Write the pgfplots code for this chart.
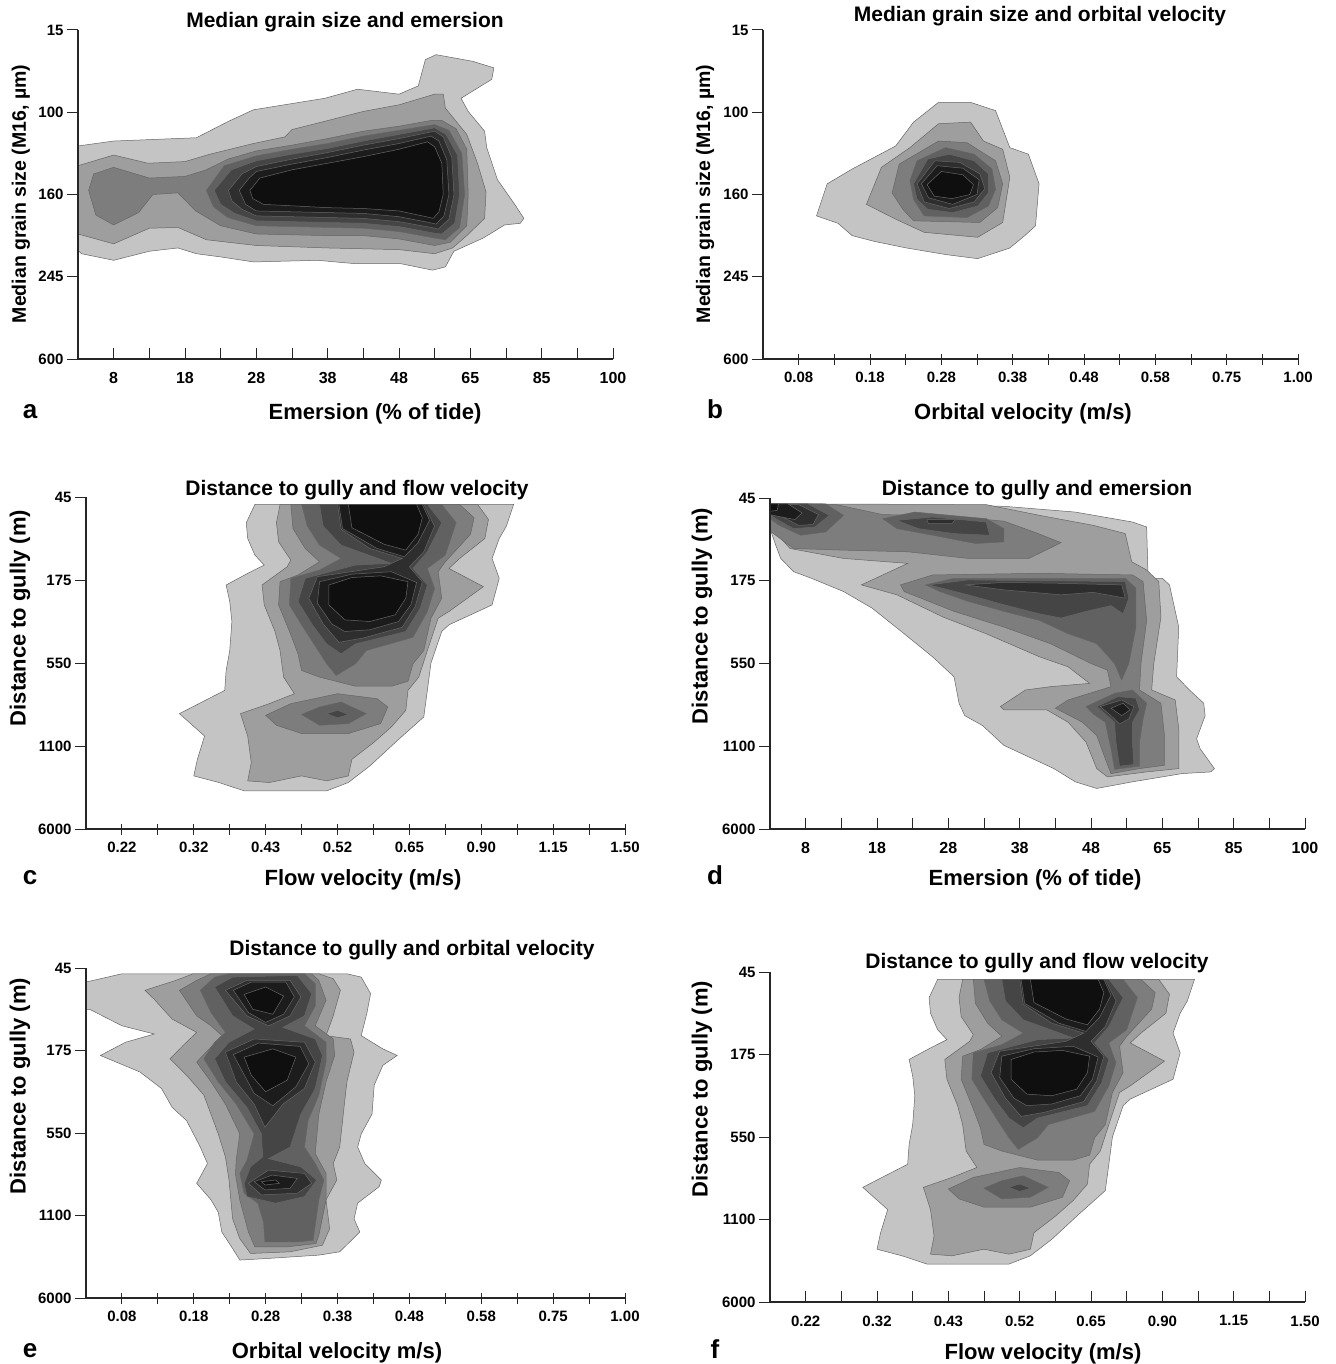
\documentclass[border=0pt]{standalone}
\usepackage{fontspec}
\setmainfont{Liberation Sans}
\usepackage{pgfplots}
\pgfplotsset{compat=1.18}

\definecolor{g1}{gray}{0.77}
\definecolor{g2}{gray}{0.62}
\definecolor{g3}{gray}{0.49}
\definecolor{g4}{gray}{0.38}
\definecolor{g5}{gray}{0.27}
\definecolor{g6}{gray}{0.18}
\definecolor{g7}{gray}{0.11}
\definecolor{g8}{gray}{0.06}

\newcommand{\ttl}{\bfseries\fontsize{21}{25}\selectfont}
\newcommand{\lbl}{\bfseries\fontsize{22}{26}\selectfont}
\newcommand{\ltr}{\bfseries\fontsize{26}{30}\selectfont}

\pgfplotsset{
  panel/.style={
    scale only axis, anchor=south west, axis on top,
    xmin=0.5, xmax=8, ymin=0, ymax=4,
    axis x line*=bottom, axis y line*=left,
    axis line style={-, line width=1.3pt, black!85},
    xtick={1,...,8}, minor xtick={1.5,2.5,...,7.5},
    ytick={0,1,2,3,4},
    major tick length=11pt, minor tick length=11pt,
    tick style={black!85, line width=1pt},
    ytick align=outside,
    tick label style={font=\bfseries\fontsize{15}{18}\selectfont},
  },
  inticks/.style={xtick align=inside, xticklabel style={yshift=-10pt}},
  midticks/.style={xtick align=center, xticklabel style={yshift=-4pt}},
  lev/.style={fill=#1, draw=black!60, line width=0.5pt},
}

% contours of distance to gully vs flow velocity (panels c and f)
\newcommand{\flowcontours}{
\addplot[lev=g1] coordinates {(2.85,3.91) (2.73,3.69) (2.75,3.50) (2.85,3.30) (2.98,3.18) (2.75,3.08) (2.45,2.94) (2.5,2.74) (2.53,2.50) (2.5,2.15) (2.45,1.91) (2.43,1.67) (1.8,1.39) (2.15,1.12) (2.05,0.84) (2.0,0.64) (2.35,0.56) (2.7,0.46) (3.85,0.46) (4.15,0.56) (4.45,0.76) (4.85,1.08) (5.2,1.35) (5.25,1.67) (5.3,2.0) (5.45,2.38) (5.55,2.46) (6.15,2.70) (6.25,3.02) (6.15,3.26) (6.25,3.50) (6.35,3.65) (6.45,3.91)} -- cycle;
\addplot[lev=g2] coordinates {(3.2,3.91) (3.15,3.69) (3.18,3.46) (3.35,3.24) (3.3,3.16) (2.95,2.94) (2.98,2.70) (3.13,2.38) (3.2,2.15) (3.25,1.83) (3.4,1.63) (3.05,1.51) (2.65,1.39) (2.75,1.12) (2.8,0.80) (2.75,0.58) (3.05,0.56) (3.5,0.64) (3.85,0.58) (4.15,0.64) (4.2,0.84) (4.5,1.04) (4.75,1.23) (4.95,1.43) (4.98,1.67) (5.13,1.83) (5.25,2.15) (5.4,2.54) (5.55,2.62) (6.03,2.92) (5.55,3.14) (5.7,3.26) (6.05,3.50) (6.1,3.73) (5.95,3.91)} -- cycle;
\addplot[lev=g3] coordinates {(3.35,3.91) (3.38,3.62) (3.55,3.38) (3.75,3.22) (3.45,3.06) (3.2,2.98) (3.18,2.70) (3.35,2.34) (3.45,2.11) (3.5,1.91) (3.75,1.83) (4.25,1.72) (4.75,1.72) (4.98,1.78) (5.05,1.99) (5.2,2.15) (5.3,2.54) (5.45,2.78) (5.4,3.10) (5.5,3.22) (5.85,3.55) (5.9,3.75) (5.7,3.91)} -- cycle;
\addplot[lev=g3] coordinates {(3.0,1.37) (3.35,1.51) (4.0,1.63) (4.55,1.57) (4.7,1.47) (4.6,1.27) (4.15,1.15) (3.5,1.15) (3.15,1.25)} -- cycle;
\addplot[lev=g4] coordinates {(3.5,3.91) (3.58,3.65) (3.75,3.42) (4.05,3.26) (3.75,3.12) (3.35,3.02) (3.33,2.70) (3.5,2.46) (3.7,2.19) (3.85,1.99) (3.98,1.85) (4.25,1.99) (4.4,2.15) (5.05,2.31) (5.25,2.62) (5.35,2.90) (5.25,3.14) (5.5,3.30) (5.65,3.69) (5.45,3.91)} -- cycle;
\addplot[lev=g4] coordinates {(3.5,1.38) (3.75,1.47) (4.05,1.53) (4.4,1.39) (4.15,1.27) (3.75,1.25)} -- cycle;
\addplot[lev=g5] coordinates {(3.75,3.91) (3.8,3.65) (4.05,3.42) (4.5,3.28) (4.75,3.20) (4.25,3.18) (3.55,3.02) (3.45,2.74) (3.65,2.46) (3.85,2.23) (4.05,2.11) (4.25,2.23) (4.95,2.38) (5.15,2.66) (5.25,2.94) (5.05,3.14) (5.25,3.34) (5.45,3.69) (5.25,3.91)} -- cycle;
\addplot[lev=g5] coordinates {(3.85,1.39) (4.0,1.43) (4.15,1.38) (4.0,1.34)} -- cycle;
\addplot[lev=g6] coordinates {(4.0,3.91) (4.05,3.61) (4.45,3.38) (4.9,3.26) (4.65,3.16) (3.72,3.04) (3.6,2.78) (3.8,2.47) (4.02,2.25) (4.35,2.3) (4.9,2.43) (5.08,2.68) (5.18,2.98) (5.0,3.16) (5.2,3.34) (5.35,3.65) (5.2,3.91)} -- cycle;
\addplot[lev=g7] coordinates {(4.02,3.91) (4.07,3.62) (4.55,3.38) (4.93,3.28) (5.12,3.45) (5.28,3.72) (5.18,3.91)} -- cycle;
\addplot[lev=g7] coordinates {(3.75,2.98) (3.72,2.72) (3.92,2.47) (4.1,2.38) (4.45,2.4) (4.85,2.5) (5.02,2.7) (5.1,2.97) (4.75,3.1) (4.2,3.07)} -- cycle;
\addplot[lev=g8] coordinates {(4.15,3.91) (4.2,3.63) (4.65,3.43) (4.95,3.36) (5.12,3.55) (5.18,3.75) (5.1,3.91)} -- cycle;
\addplot[lev=g8] coordinates {(3.88,2.94) (3.88,2.7) (4.1,2.52) (4.45,2.5) (4.8,2.58) (4.95,2.78) (4.98,2.98) (4.6,3.05) (4.2,3.03)} -- cycle;
}

\begin{document}
\begin{tikzpicture}
\path[use as bounding box] (0,0) rectangle (1335pt,-1364pt);

% ---------- a: median grain size and emersion
\begin{axis}[panel, inticks, at={(78pt,-359pt)}, width=535pt, height=329pt,
  xticklabels={8,18,28,38,48,65,85,100},
  yticklabels={600,245,160,100,15},
  xticklabel style={font=\bfseries\fontsize{16}{19}\selectfont}]
\addplot[lev=g1] coordinates {(0.5,1.32) (0.5,2.59) (1.0,2.65) (2.16,2.69) (2.61,2.89) (2.96,3.03) (3.96,3.17) (4.42,3.28) (5.0,3.22) (5.27,3.32) (5.37,3.64) (5.52,3.70) (6.03,3.62) (6.33,3.54) (6.30,3.40) (5.87,3.17) (5.97,3.01) (6.2,2.77) (6.23,2.57) (6.38,2.18) (6.63,1.87) (6.75,1.71) (6.70,1.65) (6.48,1.63) (6.18,1.47) (5.77,1.31) (5.65,1.12) (5.47,1.08) (5.02,1.16) (4.37,1.16) (3.86,1.20) (2.96,1.18) (2.51,1.24) (2.16,1.28) (1.90,1.35) (1.50,1.31) (1.0,1.20) (0.55,1.28)} -- cycle;
\addplot[lev=g2] coordinates {(0.5,1.52) (0.5,2.35) (1.0,2.48) (1.48,2.38) (2.0,2.40) (2.35,2.49) (2.96,2.62) (3.4,2.70) (3.5,2.79) (3.96,2.89) (4.5,3.01) (5.0,3.09) (5.5,3.22) (5.62,3.22) (5.65,3.05) (5.8,2.89) (5.95,2.73) (6.1,2.38) (6.22,2.03) (6.2,1.71) (5.95,1.5) (5.75,1.35) (5.5,1.28) (5.0,1.33) (4.0,1.35) (3.0,1.38) (2.3,1.45) (1.9,1.6) (1.5,1.59) (1.0,1.40)} -- cycle;
\addplot[lev=g3] coordinates {(0.65,2.05) (0.72,2.25) (1.0,2.33) (1.5,2.2) (2.0,2.22) (2.3,2.3) (2.6,2.43) (3.0,2.53) (3.5,2.6) (4.0,2.68) (4.5,2.77) (5.0,2.83) (5.45,2.9) (5.6,2.9) (5.8,2.8) (5.95,2.55) (5.97,2.0) (5.95,1.62) (5.72,1.42) (5.5,1.38) (5.0,1.46) (4.5,1.5) (4.0,1.5) (3.0,1.52) (2.5,1.62) (2.15,1.8) (1.9,2.02) (1.55,2.0) (1.35,1.78) (1.0,1.63) (0.75,1.75)} -- cycle;
\addplot[lev=g4] coordinates {(2.3,2.05) (2.55,2.35) (3.0,2.47) (3.5,2.55) (4.0,2.62) (4.5,2.71) (5.0,2.78) (5.5,2.85) (5.7,2.78) (5.88,2.5) (5.92,2.0) (5.85,1.6) (5.65,1.45) (5.5,1.47) (5.0,1.55) (4.5,1.59) (4.0,1.6) (3.0,1.62) (2.6,1.72) (2.4,1.85)} -- cycle;
\addplot[lev=g5] coordinates {(2.41,2.05) (2.65,2.3) (3.0,2.41) (3.5,2.49) (4.0,2.56) (4.5,2.65) (5.0,2.73) (5.5,2.81) (5.66,2.73) (5.82,2.48) (5.85,2.0) (5.78,1.65) (5.6,1.52) (5.5,1.53) (5.0,1.61) (4.5,1.65) (4.0,1.66) (3.0,1.68) (2.7,1.77) (2.5,1.88)} -- cycle;
\addplot[lev=g6] coordinates {(2.61,2.05) (2.8,2.25) (3.0,2.34) (3.5,2.43) (4.0,2.51) (4.5,2.6) (5.0,2.68) (5.5,2.77) (5.62,2.7) (5.74,2.45) (5.77,2.0) (5.7,1.7) (5.55,1.58) (5.45,1.6) (5.0,1.67) (4.5,1.71) (4.0,1.72) (3.0,1.74) (2.8,1.82) (2.66,1.92)} -- cycle;
\addplot[lev=g7] coordinates {(2.76,2.05) (2.9,2.2) (3.0,2.28) (3.5,2.37) (4.0,2.45) (4.5,2.54) (5.0,2.62) (5.45,2.71) (5.56,2.65) (5.67,2.42) (5.7,2.0) (5.63,1.74) (5.52,1.64) (5.42,1.66) (5.0,1.73) (4.5,1.77) (4.0,1.78) (3.0,1.8) (2.85,1.88)} -- cycle;
\addplot[lev=g8] coordinates {(2.91,2.05) (3.05,2.2) (3.5,2.3) (4.0,2.38) (4.5,2.46) (5.0,2.55) (5.4,2.64) (5.5,2.58) (5.6,2.38) (5.62,2.0) (5.56,1.79) (5.48,1.71) (5.38,1.73) (5.0,1.8) (4.5,1.83) (4.0,1.84) (3.1,1.88) (2.95,1.95)} -- cycle;
\end{axis}

% ---------- b: median grain size and orbital velocity
\begin{axis}[panel, midticks, at={(763pt,-359pt)}, width=535pt, height=329pt,
  xticklabels={0.08,0.18,0.28,0.38,0.48,0.58,0.75,1.00},
  yticklabels={600,245,160,100,15}]
\addplot[lev=g1] coordinates {(1.25,1.74) (1.40,2.13) (1.75,2.31) (2.36,2.59) (2.61,2.88) (2.96,3.12) (3.41,3.12) (3.76,3.02) (3.96,2.57) (4.22,2.49) (4.37,2.13) (4.32,1.62) (4.17,1.50) (3.96,1.35) (3.51,1.22) (3.06,1.27) (2.51,1.35) (2.06,1.43) (1.75,1.50) (1.55,1.65)} -- cycle;
\addplot[lev=g2] coordinates {(1.95,1.88) (2.16,2.33) (2.56,2.57) (2.96,2.86) (3.41,2.88) (3.59,2.65) (3.86,2.55) (3.96,2.21) (3.86,1.66) (3.51,1.48) (2.76,1.54) (2.36,1.70)} -- cycle;
\addplot[lev=g3] coordinates {(2.31,2.02) (2.41,2.37) (2.96,2.65) (3.36,2.63) (3.76,2.41) (3.86,2.13) (3.79,1.84) (3.54,1.66) (2.61,1.68) (2.46,1.82)} -- cycle;
\addplot[lev=g4] coordinates {(2.56,2.17) (2.66,2.41) (3.06,2.57) (3.46,2.49) (3.71,2.31) (3.76,2.06) (3.66,1.86) (3.36,1.72) (2.76,1.74) (2.61,1.94)} -- cycle;
\addplot[lev=g5] coordinates {(2.61,2.13) (2.81,2.43) (3.11,2.49) (3.46,2.41) (3.66,2.25) (3.66,2.02) (3.51,1.86) (3.16,1.78) (2.81,1.82) (2.66,1.94)} -- cycle;
\addplot[lev=g6] coordinates {(2.66,2.13) (2.91,2.41) (3.26,2.39) (3.54,2.25) (3.61,2.07) (3.46,1.91) (3.11,1.83) (2.76,1.91)} -- cycle;
\addplot[lev=g7] coordinates {(2.72,2.13) (2.94,2.35) (3.3,2.32) (3.53,2.18) (3.5,2.0) (3.16,1.88) (2.82,1.96)} -- cycle;
\addplot[lev=g8] coordinates {(2.8,2.12) (3.0,2.28) (3.3,2.24) (3.45,2.12) (3.4,2.0) (3.15,1.95) (2.9,1.98)} -- cycle;
\end{axis}

% ---------- c: distance to gully and flow velocity
\begin{axis}[panel, midticks, at={(86pt,-829pt)}, width=539pt, height=332pt,
  xticklabels={0.22,0.32,0.43,0.52,0.65,0.90,1.15,1.50},
  yticklabels={6000,1100,550,175,45}]
\flowcontours
\end{axis}

% ---------- d: distance to gully and emersion
\begin{axis}[panel, inticks, at={(770pt,-829pt)}, width=535pt, height=331pt,
  xticklabels={8,18,28,38,48,65,85,100},
  yticklabels={6000,1100,550,175,45},
  xticklabel style={font=\bfseries\fontsize{16}{19}\selectfont}]
\addplot[lev=g1] coordinates {(0.5,3.93) (3.78,3.90) (4.78,3.83) (5.58,3.71) (5.78,3.65) (5.8,3.03) (6.0,3.03) (6.1,2.95) (6.23,2.44) (6.2,1.84) (6.38,1.68) (6.58,1.52) (6.6,1.37) (6.48,1.09) (6.53,0.97) (6.73,0.73) (6.68,0.69) (6.28,0.67) (5.58,0.57) (5.08,0.49) (4.78,0.57) (4.48,0.73) (4.18,0.85) (3.78,1.01) (3.48,1.25) (3.23,1.37) (3.15,1.52) (3.08,1.84) (2.78,2.08) (2.38,2.36) (1.93,2.67) (1.53,2.87) (1.08,3.03) (0.83,3.11) (0.65,3.27) (0.58,3.43) (0.5,3.63)} -- cycle;
\addplot[lev=g2] coordinates {(0.5,3.93) (3.53,3.92) (4.28,3.79) (5.03,3.67) (5.48,3.57) (5.57,3.23) (5.78,3.13) (5.95,2.99) (5.98,2.56) (5.88,2.0) (5.85,1.68) (6.18,1.56) (6.23,1.21) (6.23,0.73) (5.78,0.69) (5.23,0.63) (5.08,0.73) (4.93,1.05) (4.68,1.29) (4.38,1.44) (3.78,1.44) (3.73,1.48) (4.08,1.68) (4.43,1.72) (4.98,1.76) (4.68,1.96) (4.28,2.08) (3.53,2.36) (2.93,2.56) (2.28,2.83) (1.78,2.95) (2.43,3.21) (1.53,3.27) (0.78,3.39) (0.53,3.63) (0.5,3.71)} -- cycle;
\addplot[lev=g3] coordinates {(0.5,3.93) (1.43,3.92) (2.08,3.8) (3.03,3.78) (3.78,3.72) (4.23,3.58) (4.58,3.46) (4.13,3.27) (3.28,3.27) (2.43,3.35) (1.53,3.37) (0.83,3.39) (0.58,3.55) (0.5,3.6)} -- cycle;
\addplot[lev=g3] coordinates {(2.33,2.95) (2.78,3.07) (4.28,3.09) (5.58,3.07) (5.73,2.99) (5.78,2.52) (5.7,2.0) (5.68,1.68) (5.98,1.52) (6.03,1.13) (6.03,0.77) (5.68,0.73) (5.28,0.67) (5.2,0.85) (5.08,1.13) (4.88,1.29) (4.5,1.46) (4.68,1.56) (5.28,1.72) (5.23,1.92) (5.0,2.0) (4.43,2.24) (3.78,2.44) (3.08,2.63) (2.38,2.87)} -- cycle;
\addplot[lev=g4] coordinates {(0.5,3.93) (1.28,3.93) (1.53,3.79) (1.28,3.59) (0.93,3.55) (0.63,3.67) (0.5,3.75)} -- cycle;
\addplot[lev=g4] coordinates {(2.08,3.75) (2.53,3.83) (3.53,3.75) (3.78,3.63) (3.78,3.47) (3.38,3.45) (2.78,3.55) (2.28,3.63)} -- cycle;
\addplot[lev=g4] coordinates {(2.68,2.95) (3.08,3.03) (4.28,3.03) (5.48,3.03) (5.63,2.91) (5.63,2.44) (5.53,2.0) (5.43,1.80) (5.33,2.0) (5.08,2.24) (4.68,2.36) (4.28,2.52) (3.78,2.63) (3.28,2.75) (2.88,2.87)} -- cycle;
\addplot[lev=g4] coordinates {(4.93,1.48) (5.33,1.64) (5.58,1.68) (5.78,1.52) (5.73,1.33) (5.68,1.05) (5.68,0.76) (5.33,0.72) (5.28,0.97) (5.2,1.29) (5.03,1.39)} -- cycle;
\addplot[lev=g5] coordinates {(0.5,3.93) (1.03,3.93) (1.33,3.79) (1.13,3.65) (0.83,3.63) (0.58,3.75) (0.5,3.8)} -- cycle;
\addplot[lev=g5] coordinates {(2.28,3.73) (2.78,3.77) (3.53,3.71) (3.58,3.55) (3.08,3.57) (2.58,3.63)} -- cycle;
\addplot[lev=g5] coordinates {(2.73,2.95) (3.28,3.01) (4.28,3.0) (5.48,2.99) (5.53,2.79) (5.45,2.6) (5.28,2.7) (4.93,2.63) (4.58,2.55) (4.28,2.6) (3.78,2.71) (3.28,2.83)} -- cycle;
\addplot[lev=g5] coordinates {(5.08,1.48) (5.38,1.6) (5.63,1.58) (5.68,1.44) (5.58,1.29) (5.58,1.05) (5.6,0.78) (5.4,0.76) (5.35,1.05) (5.33,1.29)} -- cycle;
\addplot[lev=g6] coordinates {(0.5,3.93) (0.9,3.92) (1.18,3.8) (1.1,3.68) (0.9,3.67) (0.7,3.76) (0.5,3.82)} -- cycle;
\addplot[lev=g6] coordinates {(2.7,3.74) (3.1,3.74) (3.05,3.69) (2.72,3.69)} -- cycle;
\addplot[lev=g6] coordinates {(3.23,2.95) (3.78,2.98) (4.53,2.97) (5.43,2.95) (5.48,2.79) (5.03,2.86) (4.58,2.83) (3.78,2.89)} -- cycle;
\addplot[lev=g6] coordinates {(5.13,1.48) (5.43,1.56) (5.6,1.48) (5.53,1.33) (5.4,1.27) (5.28,1.37)} -- cycle;
\addplot[lev=g7] coordinates {(0.5,3.93) (0.75,3.93) (0.95,3.82) (0.85,3.74) (0.6,3.78) (0.5,3.8)} -- cycle;
\addplot[lev=g7] coordinates {(5.28,1.46) (5.45,1.52) (5.55,1.44) (5.43,1.37)} -- cycle;
\addplot[lev=g8] coordinates {(0.5,3.93) (0.62,3.93) (0.6,3.85) (0.5,3.84)} -- cycle;
\end{axis}

% ---------- e: distance to gully and orbital velocity
\begin{axis}[panel, midticks, at={(86pt,-1298pt)}, width=539pt, height=330pt,
  xticklabels={0.08,0.18,0.28,0.38,0.48,0.58,0.75,1.00},
  yticklabels={6000,1100,550,175,45}]
\addplot[lev=g1] coordinates {(0.5,3.83) (1.0,3.93) (4.13,3.93) (4.33,3.89) (4.46,3.69) (4.41,3.46) (4.33,3.18) (4.48,3.1) (4.63,3.02) (4.83,2.94) (4.63,2.82) (4.51,2.58) (4.48,2.23) (4.33,1.99) (4.28,1.83) (4.38,1.63) (4.61,1.43) (4.58,1.35) (4.28,1.15) (4.23,0.96) (4.31,0.80) (4.03,0.56) (3.74,0.52) (3.04,0.48) (2.64,0.46) (2.54,0.6) (2.39,0.8) (2.34,1.04) (2.24,1.19) (2.04,1.39) (2.19,1.63) (2.09,1.83) (1.9,2.15) (1.7,2.31) (1.55,2.54) (1.25,2.74) (0.7,2.94) (1.05,3.1) (1.45,3.2) (1.0,3.3) (0.55,3.5) (0.5,3.5)} -- cycle;
\addplot[lev=g2] coordinates {(1.32,3.73) (1.75,3.85) (1.99,3.93) (3.74,3.93) (3.94,3.87) (4.04,3.73) (3.94,3.42) (3.84,3.18) (4.18,3.14) (4.23,2.98) (4.13,2.62) (4.08,2.23) (4.03,1.83) (3.94,1.63) (3.99,1.43) (3.84,1.19) (3.89,0.84) (3.79,0.64) (3.34,0.56) (2.79,0.54) (2.64,0.72) (2.54,0.96) (2.49,1.43) (2.44,1.71) (2.34,1.99) (2.14,2.46) (1.9,2.7) (1.67,2.9) (1.85,3.06) (2.04,3.22) (1.7,3.38) (1.45,3.62)} -- cycle;
\addplot[lev=g3] coordinates {(1.8,3.73) (2.04,3.85) (2.24,3.93) (3.64,3.93) (3.74,3.85) (3.84,3.61) (3.69,3.3) (3.94,3.14) (3.96,2.94) (3.84,2.62) (3.74,2.23) (3.69,1.75) (3.84,1.51) (3.84,1.19) (3.74,0.76) (3.7,0.66) (3.3,0.62) (2.85,0.62) (2.76,0.8) (2.64,1.19) (2.58,1.5) (2.59,1.67) (2.64,1.99) (2.44,2.35) (2.24,2.62) (2.04,2.86) (2.39,3.18) (2.24,3.3) (2.04,3.42)} -- cycle;
\addplot[lev=g4] coordinates {(2.09,3.73) (2.29,3.89) (2.49,3.93) (3.54,3.93) (3.69,3.81) (3.69,3.54) (3.54,3.3) (3.84,3.1) (3.84,2.86) (3.74,2.46) (3.59,2.15) (3.54,1.83) (3.69,1.63) (3.81,1.43) (3.74,1.19) (3.66,0.7) (3.44,0.68) (2.99,0.68) (2.97,0.92) (2.89,1.15) (2.7,1.27) (2.64,1.51) (2.74,1.67) (2.84,1.99) (2.59,2.35) (2.34,2.62) (2.14,2.9) (2.29,3.1) (2.44,3.22) (2.24,3.46)} -- cycle;
\addplot[lev=g5] coordinates {(2.29,3.77) (2.54,3.89) (3.44,3.91) (3.64,3.69) (3.54,3.42) (3.24,3.28) (3.69,3.14) (3.79,2.94) (3.69,2.54) (3.49,2.23) (3.34,1.83) (3.04,1.69) (3.49,1.59) (3.71,1.43) (3.54,1.23) (3.14,1.15) (2.74,1.23) (2.7,1.39) (2.79,1.59) (2.96,1.71) (2.94,1.99) (2.74,2.31) (2.44,2.62) (2.29,2.9) (2.49,3.1) (2.84,3.26) (2.54,3.42)} -- cycle;
\addplot[lev=g6] coordinates {(2.44,3.73) (2.74,3.85) (3.34,3.85) (3.49,3.65) (3.34,3.42) (3.04,3.3) (2.74,3.42)} -- cycle;
\addplot[lev=g6] coordinates {(2.44,2.98) (2.84,3.14) (3.54,3.1) (3.69,2.86) (3.54,2.54) (3.24,2.35) (2.99,2.07) (2.84,2.35) (2.59,2.62)} -- cycle;
\addplot[lev=g6] coordinates {(2.76,1.39) (3.04,1.55) (3.54,1.51) (3.64,1.39) (3.44,1.27) (2.94,1.25)} -- cycle;
\addplot[lev=g7] coordinates {(2.55,3.73) (2.8,3.83) (3.28,3.83) (3.4,3.65) (3.25,3.44) (3.0,3.34) (2.76,3.46)} -- cycle;
\addplot[lev=g7] coordinates {(2.55,2.95) (2.9,3.09) (3.48,3.05) (3.6,2.84) (3.42,2.56) (3.1,2.33) (2.84,2.48)} -- cycle;
\addplot[lev=g7] coordinates {(2.84,1.41) (3.09,1.49) (3.44,1.45) (3.34,1.33) (2.99,1.31)} -- cycle;
\addplot[lev=g8] coordinates {(2.7,3.68) (3.0,3.77) (3.25,3.66) (3.1,3.44) (2.82,3.5)} -- cycle;
\addplot[lev=g8] coordinates {(2.7,2.92) (3.1,3.02) (3.42,2.92) (3.3,2.64) (3.0,2.5) (2.8,2.7)} -- cycle;
\addplot[lev=g8] coordinates {(2.94,1.41) (3.14,1.43) (3.19,1.39) (2.99,1.37)} -- cycle;
\end{axis}

% ---------- f: distance to gully and flow velocity
\begin{axis}[panel, inticks, at={(770pt,-1302pt)}, width=535pt, height=330pt,
  xticklabels={0.22,0.32,0.43,0.52,0.65,0.90,1.15,1.50},
  yticklabels={6000,1100,550,175,45}]
\flowcontours
\end{axis}

% titles
\node[font=\ttl, anchor=base] at (345pt,-28pt) {Median grain size and emersion};
\node[font=\ttl, anchor=base] at (1040pt,-22pt) {Median grain size and orbital velocity};
\node[font=\ttl, anchor=base] at (357pt,-495pt) {Distance to gully and flow velocity};
\node[font=\ttl, anchor=base] at (1037pt,-495pt) {Distance to gully and emersion};
\node[font=\ttl, anchor=base] at (412pt,-955pt) {Distance to gully and orbital velocity};
\node[font=\ttl, anchor=base] at (1037pt,-968pt) {Distance to gully and flow velocity};

% x labels
\node[font=\lbl, anchor=base] at (375pt,-419pt) {Emersion (\% of tide)};
\node[font=\lbl, anchor=base] at (1023pt,-419pt) {Orbital velocity (m/s)};
\node[font=\lbl, anchor=base] at (363pt,-885pt) {Flow velocity (m/s)};
\node[font=\lbl, anchor=base] at (1035pt,-885pt) {Emersion (\% of tide)};
\node[font=\lbl, anchor=base] at (337pt,-1358pt) {Orbital velocity m/s)};
\node[font=\lbl, anchor=base] at (1043pt,-1359pt) {Flow velocity (m/s)};

% y labels
\node[font=\bfseries\fontsize{19.5}{23}\selectfont, rotate=90] at (21pt,-194pt) {Median grain size (M16, µm)};
\node[font=\bfseries\fontsize{19.5}{23}\selectfont, rotate=90] at (705pt,-194pt) {Median grain size (M16, µm)};
\node[font=\lbl, rotate=90] at (20pt,-618pt) {Distance to gully (m)};
\node[font=\lbl, rotate=90] at (702pt,-616pt) {Distance to gully (m)};
\node[font=\lbl, rotate=90] at (20pt,-1086pt) {Distance to gully (m)};
\node[font=\lbl, rotate=90] at (702pt,-1089pt) {Distance to gully (m)};

% panel letters
\node[font=\ltr, anchor=base] at (30pt,-418pt) {a};
\node[font=\ltr, anchor=base] at (715pt,-418pt) {b};
\node[font=\ltr, anchor=base] at (30pt,-884pt) {c};
\node[font=\ltr, anchor=base] at (715pt,-884pt) {d};
\node[font=\ltr, anchor=base] at (30pt,-1357pt) {e};
\node[font=\ltr, anchor=base] at (715pt,-1358pt) {f};
\end{tikzpicture}
\end{document}
